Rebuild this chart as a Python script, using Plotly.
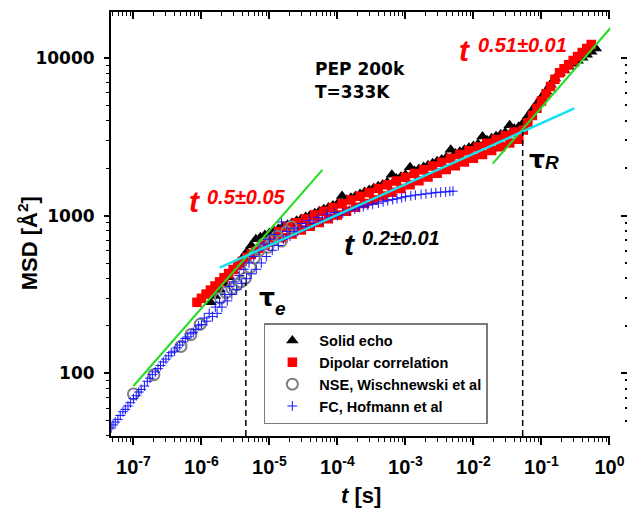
import plotly.graph_objects as go

# ---------------- data ----------------
t_solid = [1.36e-6, 1.58e-6, 1.85e-6, 2.15e-6, 2.51e-6, 2.93e-6, 3.41e-6, 3.98e-6, 4.64e-6, 5.41e-6,
           6.31e-6, 7.36e-6, 8.58e-6, 1.0e-5, 1.17e-5, 1.36e-5, 1.58e-5, 1.85e-5, 2.15e-5, 2.51e-5,
           2.93e-5, 3.41e-5, 3.98e-5, 4.64e-5, 5.41e-5, 6.31e-5, 7.36e-5, 8.58e-5, 1.0e-4, 1.17e-4,
           1.36e-4, 1.58e-4, 1.85e-4, 2.15e-4, 2.51e-4, 2.93e-4, 3.41e-4, 3.98e-4, 4.64e-4, 5.41e-4,
           6.31e-4, 7.36e-4, 8.58e-4, 1.0e-3, 1.17e-3, 1.36e-3, 1.58e-3, 1.85e-3, 2.15e-3, 2.51e-3,
           2.93e-3, 3.41e-3, 3.98e-3, 4.64e-3, 5.41e-3, 6.31e-3, 7.36e-3, 8.58e-3, 1.0e-2, 1.17e-2,
           1.36e-2, 1.58e-2, 1.85e-2, 2.15e-2, 2.51e-2, 2.93e-2, 3.41e-2, 3.98e-2, 4.64e-2, 5.41e-2,
           6.31e-2, 7.36e-2, 8.58e-2, 1.0e-1, 1.17e-1, 1.36e-1, 1.58e-1, 1.85e-1, 2.15e-1, 2.51e-1,
           2.93e-1, 3.41e-1, 3.98e-1, 4.64e-1, 5.41e-1, 6.31e-1]
msd_solid = [282, 309, 339, 372, 407, 447, 490, 537, 589, 646,
             708, 730, 753, 776, 800, 826, 851, 875, 899, 927,
             953, 980, 1007, 1035, 1067, 1096, 1127, 1159, 1191, 1330,
             1262, 1297, 1334, 1371, 1413, 1452, 1493, 1535, 1578, 1626,
             1820, 1718, 1766, 1816, 2030, 1923, 1977, 2032, 2089, 2153,
             2213, 2275, 2339, 2620, 2477, 2547, 2618, 2692, 2767, 2851,
             3180, 3013, 3097, 3184, 3273, 3373, 3750, 3565, 3664, 3890,
             4266, 4677, 5129, 5623, 6166, 6761, 7413, 8035, 8395, 8790,
             9183, 9594, 10050, 10500, 10960, 11480]

t_dipolar = [8.58e-7, 1.0e-6, 1.17e-6, 1.36e-6, 1.58e-6, 1.85e-6, 2.15e-6, 2.51e-6, 2.93e-6, 3.41e-6,
             3.98e-6, 4.64e-6, 5.41e-6, 6.31e-6, 7.36e-6, 8.58e-6, 1.0e-5, 1.17e-5, 1.36e-5, 1.58e-5,
             1.85e-5, 2.15e-5, 2.51e-5, 2.93e-5, 3.41e-5, 3.98e-5, 4.64e-5, 5.41e-5, 6.31e-5, 7.36e-5,
             8.58e-5, 1.0e-4, 1.17e-4, 1.36e-4, 1.58e-4, 1.85e-4, 2.15e-4, 2.51e-4, 2.93e-4, 3.41e-4,
             3.98e-4, 4.64e-4, 5.41e-4, 6.31e-4, 7.36e-4, 8.58e-4, 1.0e-3, 1.17e-3, 1.36e-3, 1.58e-3,
             1.85e-3, 2.15e-3, 2.51e-3, 2.93e-3, 3.41e-3, 3.98e-3, 4.64e-3, 5.41e-3, 6.31e-3, 7.36e-3,
             8.58e-3, 1.0e-2, 1.17e-2, 1.36e-2, 1.58e-2, 1.85e-2, 2.15e-2, 2.51e-2, 2.93e-2, 3.41e-2,
             3.98e-2, 4.64e-2, 5.41e-2, 6.31e-2, 7.36e-2, 8.58e-2, 1.0e-1, 1.17e-1, 1.36e-1, 1.58e-1,
             1.85e-1, 2.15e-1, 2.51e-1, 2.93e-1, 3.41e-1, 3.98e-1, 4.64e-1, 5.41e-1]
msd_dipolar = [282, 299, 318, 337, 358, 380, 404, 429, 455, 483,
               513, 543, 568, 594, 621, 649, 679, 710, 793, 725,
               854, 766, 902, 810, 953, 856, 1008, 905, 1065, 956,
               1126, 1010, 1190, 1068, 1257, 1129, 1329, 1193, 1404, 1261,
               1484, 1333, 1569, 1408, 1657, 1488, 1752, 1573, 1851, 1662,
               1956, 1756, 2067, 1856, 2185, 1962, 2309, 2073, 2440, 2191,
               2579, 2315, 2725, 2447, 2880, 2586, 3043, 2733, 3216, 2888,
               3399, 3052, 3491, 3882, 4315, 4797, 5333, 5929, 6592, 7328,
               8066, 8551, 9078, 9638, 10210, 10840, 11510, 12190]

t_nse = [1.0e-7, 2.0e-7, 5.0e-7, 7.0e-7, 9.6e-7, 1.9e-6, 2.3e-6, 2.8e-6, 3.3e-6, 3.8e-6, 4.4e-6,
         5.2e-6, 6.0e-6, 7.0e-6, 8.2e-6, 9.5e-6, 1.1e-5, 1.3e-5, 1.5e-5, 1.8e-5, 2.1e-5]
msd_nse = [74, 98, 148, 176, 205, 300, 325, 345, 365, 380, 400,
           470, 540, 600, 660, 630, 700, 740, 690, 790, 850]

t_fc = [4.7e-8, 5.0e-8, 5.4e-8, 5.9e-8, 6.4e-8, 7.0e-8, 7.6e-8, 8.3e-8, 9.0e-8,
        1.0e-7, 1.1e-7, 1.2e-7, 1.3e-7, 1.45e-7, 1.6e-7, 1.75e-7, 1.9e-7, 2.1e-7, 2.3e-7, 2.5e-7,
        2.75e-7, 3.0e-7, 3.3e-7, 3.6e-7, 4.0e-7, 4.4e-7, 4.8e-7, 5.3e-7, 5.8e-7, 6.3e-7, 7.0e-7,
        7.6e-7, 8.3e-7, 9.1e-7,
        1.0e-6, 1.1e-6, 1.2e-6, 1.3e-6, 1.45e-6, 1.6e-6, 1.7e-6, 1.85e-6, 2.0e-6, 2.2e-6, 2.4e-6,
        2.6e-6, 2.8e-6, 3.0e-6, 3.3e-6, 3.6e-6, 3.9e-6, 4.2e-6, 4.6e-6, 5.0e-6, 5.4e-6, 5.9e-6,
        6.4e-6, 7.0e-6, 7.6e-6, 8.3e-6, 9.0e-6,
        1.0e-5, 1.1e-5, 1.2e-5, 1.35e-5, 1.5e-5, 1.6e-5, 1.8e-5, 2.0e-5, 2.3e-5, 2.6e-5, 3.0e-5,
        3.4e-5, 3.9e-5, 4.5e-5, 5.2e-5, 6.0e-5, 7.0e-5, 8.0e-5, 9.0e-5,
        1.0e-4, 1.2e-4, 1.5e-4, 1.8e-4, 2.1e-4, 2.4e-4, 2.8e-4, 3.3e-4, 4.0e-4, 4.7e-4, 5.5e-4,
        6.5e-4, 7.5e-4, 8.8e-4,
        1.0e-3, 1.2e-3, 1.4e-3, 1.7e-3, 2.0e-3, 2.4e-3, 2.8e-3, 3.3e-3, 3.9e-3, 4.5e-3, 5.0e-3]
msd_fc = [45, 47, 49, 51, 54, 57, 59, 62, 65,
          69, 72, 76, 79, 83, 89, 93, 98, 102, 107, 112,
          118, 123, 129, 135, 138, 145, 151, 158, 166, 170, 178,
          182, 190, 200,
          204, 224, 214, 240, 229, 263, 240, 282, 263, 316, 288,
          355, 316, 380, 339, 417, 372, 457, 398, 501, 427, 550,
          457, 603, 501, 661, 550,
          708, 603, 759, 646, 912, 708, 794, 741, 832, 794, 891,
          851, 933, 891, 977, 933, 1023, 977, 1047,
          1000, 1040, 1080, 1100, 1130, 1140, 1165, 1180, 1200, 1225, 1245,
          1265, 1280, 1300,
          1320, 1335, 1350, 1365, 1375, 1390, 1400, 1410, 1415, 1425, 1430]

# power-law guide lines (end points)
fit_short_t = [1.0e-7, 6.0e-5]
fit_short_msd = [83, 1950]
fit_long_t = [1.92e-2, 1.035]
fit_long_msd = [2140, 15500]
fit_mid_t = [1.86e-6, 0.305]
fit_mid_msd = [468, 4790]
tau_e_t = [4.5e-6, 4.5e-6]
tau_e_msd = [40, 376]
tau_r_t = [0.053, 0.053]
tau_r_msd = [40, 3400]

series_names = ["Solid echo", "Dipolar correlation", "NSE, Wischnewski et al", "FC, Hofmann et al"]
x_tickvals = [1e-7, 1e-6, 1e-5, 1e-4, 1e-3, 1e-2, 1e-1, 1e0]
x_ticktext = ["10<sup>-7</sup>", "10<sup>-6</sup>", "10<sup>-5</sup>", "10<sup>-4</sup>",
              "10<sup>-3</sup>", "10<sup>-2</sup>", "10<sup>-1</sup>", "10<sup>0</sup>"]
y_tickvals = [100, 1000, 10000]
y_ticktext = ["100", "1000", "10000"]

# ---------------- layout geometry ----------------
W, H = 641, 510
ML, MR, MT, MB = 111, 0, 12, 74
PW = W - ML - MR
PH = H - MT - MB
PLOT_RIGHT = 624
XR = [-7.33, 0.015]
YR = [1.602, 4.292]


def px(x):
    return (x - ML) / PW


def py(y):
    return (H - MB - y) / PH


x_minor = [m * 10 ** e for e in range(-8, 1) for m in range(2, 10)]
y_minor = [m * 10 ** e for e in range(1, 5) for m in range(2, 10)]

ARIAL = "Liberation Sans, Arial, sans-serif"
DEJAVU = "DejaVu Sans, sans-serif"

fig = go.Figure()

fig.add_trace(go.Scatter(x=t_solid, y=msd_solid, mode="markers", name=series_names[0],
                         marker=dict(symbol="triangle-up", size=11, color="black",
                                     line=dict(width=0))))
fig.add_trace(go.Scatter(x=t_dipolar, y=msd_dipolar, mode="markers", name=series_names[1],
                         marker=dict(symbol="square", size=9.5, color="#ff0000",
                                     line=dict(width=0))))
fig.add_trace(go.Scatter(x=t_nse, y=msd_nse, mode="markers", name=series_names[2],
                         marker=dict(symbol="circle-open", size=11, color="#808080",
                                     line=dict(width=2, color="#808080"))))
fig.add_trace(go.Scatter(x=t_fc, y=msd_fc, mode="markers", name=series_names[3],
                         marker=dict(symbol="cross-thin", size=7, color="#1515ff",
                                     line=dict(width=1, color="#1515ff"))))

line_style = dict(mode="lines", showlegend=False, hoverinfo="skip")
fig.add_trace(go.Scatter(x=fit_short_t, y=fit_short_msd, line=dict(color="#22dd22", width=2), **line_style))
fig.add_trace(go.Scatter(x=fit_long_t, y=fit_long_msd, line=dict(color="#22dd22", width=2), **line_style))
fig.add_trace(go.Scatter(x=fit_mid_t, y=fit_mid_msd, line=dict(color="#11e3f0", width=2.5), **line_style))
fig.add_trace(go.Scatter(x=tau_e_t, y=tau_e_msd, line=dict(color="black", width=1.5, dash="6px,4px"), **line_style))
fig.add_trace(go.Scatter(x=tau_r_t, y=tau_r_msd, line=dict(color="black", width=1.5, dash="6px,4px"), **line_style))

# helper traces for the mirrored top axis and the clipped right axis
fig.add_trace(go.Scatter(x=[1e-3], y=[1000], xaxis="x2", yaxis="y", mode="markers",
                         marker=dict(opacity=0), showlegend=False, hoverinfo="skip"))
fig.add_trace(go.Scatter(x=[1e-3], y=[1000], xaxis="x", yaxis="y2", mode="markers",
                         marker=dict(opacity=0), showlegend=False, hoverinfo="skip"))

xdom = [0, (PLOT_RIGHT - ML) / PW]

fig.update_layout(
    width=W, height=H,
    margin=dict(l=ML, r=MR, t=MT, b=MB, pad=0),
    paper_bgcolor="white", plot_bgcolor="white",
    xaxis=dict(type="log", range=XR, domain=xdom, showgrid=False, zeroline=False,
               showline=True, linecolor="black", linewidth=2,
               ticks="outside", ticklen=7, tickwidth=1.5, tickcolor="black",
               tickmode="array", tickvals=x_tickvals, ticktext=x_ticktext,
               tickfont=dict(family=ARIAL, size=20, color="black", weight="bold"),
               ticklabelstandoff=5,
               minor=dict(tickmode="array", tickvals=x_minor, ticks="outside", ticklen=4,
                          tickwidth=1.2, tickcolor="black", showgrid=False)),
    xaxis2=dict(type="log", range=XR, domain=xdom, overlaying="x", anchor="y", side="top",
                showgrid=False, zeroline=False, showline=True, linecolor="black", linewidth=2,
                ticks="inside", ticklen=7, tickwidth=1.5, tickcolor="black",
                tickmode="array", tickvals=x_tickvals, showticklabels=False,
                minor=dict(tickmode="array", tickvals=x_minor, ticks="inside", ticklen=4,
                           tickwidth=1.2, tickcolor="black", showgrid=False)),
    yaxis=dict(type="log", range=YR, showgrid=False, zeroline=False,
               showline=True, linecolor="black", linewidth=2,
               ticks="outside", ticklen=5, tickwidth=1.5, tickcolor="black",
               tickmode="array", tickvals=y_tickvals, ticktext=y_ticktext,
               tickfont=dict(family=DEJAVU, size=17, color="black", weight="bold"),
               ticklabelstandoff=6,
               minor=dict(tickmode="array", tickvals=y_minor, ticks="outside", ticklen=3,
                          tickwidth=1.2, tickcolor="black", showgrid=False)),
    yaxis2=dict(type="log", range=YR, overlaying="y", anchor="free", position=1, side="right",
                showgrid=False, zeroline=False, showline=False,
                ticks="inside", ticklen=6, tickwidth=1.5, tickcolor="black",
                tickmode="array", tickvals=y_tickvals, showticklabels=False,
                minor=dict(tickmode="array", tickvals=y_minor, ticks="inside", ticklen=2,
                           tickwidth=1.5, tickcolor="black", showgrid=False)),
    legend=dict(x=px(268), y=py(323), xanchor="left", yanchor="top",
                bgcolor="white", bordercolor="#7a7a7a", borderwidth=1.5,
                font=dict(family=ARIAL, size=14.5, color="black", weight="bold"),
                tracegroupgap=0, itemwidth=44),
    showlegend=True,
)

annots = [
    # (text, x_px_left, y_px_center, family, size, color)
    ("PEP 200k", 318, 69, DEJAVU, 17, "black"),
    ("T=333K", 318, 92, DEJAVU, 17, "black"),
    ("<i>t</i>", 189, 202, ARIAL, 30, "#ff0000"),
    ("<i>0.5±0.05</i>", 208, 197, ARIAL, 20, "#ff0000"),
    ("<i>t</i>", 466, 51, ARIAL, 30, "#ff0000"),
    ("<i>0.51±0.01</i>", 486, 45, ARIAL, 20, "#ff0000"),
    ("<i>t</i>", 348, 244, ARIAL, 30, "black"),
    ("<i>0.2±0.01</i>", 367, 238, ARIAL, 20, "black"),
    ("τ", 261, 297, DEJAVU, 25, "black"),
    ("<i>e</i>", 277, 308, ARIAL, 19, "black"),
    ("τ", 538, 159, DEJAVU, 25, "black"),
    ("<i>R</i>", 555, 162, ARIAL, 19, "black"),
]
for text, xl, yc, fam, size, col in annots:
    fig.add_annotation(text=text, xref="paper", yref="paper", x=px(xl), y=py(yc),
                       xanchor="left", yanchor="middle", showarrow=False,
                       font=dict(family=fam, size=size, color=col, weight="bold"))

# axis titles
fig.add_annotation(text="<i>t</i> [s]", xref="paper", yref="paper", x=px(368), y=py(495),
                   xanchor="center", yanchor="middle", showarrow=False,
                   font=dict(family=ARIAL, size=22, color="black", weight="bold"))
fig.add_annotation(text="MSD [Å<sup>2</sup>]", xref="paper", yref="paper", x=px(26), y=py(243),
                   xanchor="center", yanchor="middle", showarrow=False, textangle=-90,
                   font=dict(family=ARIAL, size=22, color="black", weight="bold"))

fig.write_html("out.html")
